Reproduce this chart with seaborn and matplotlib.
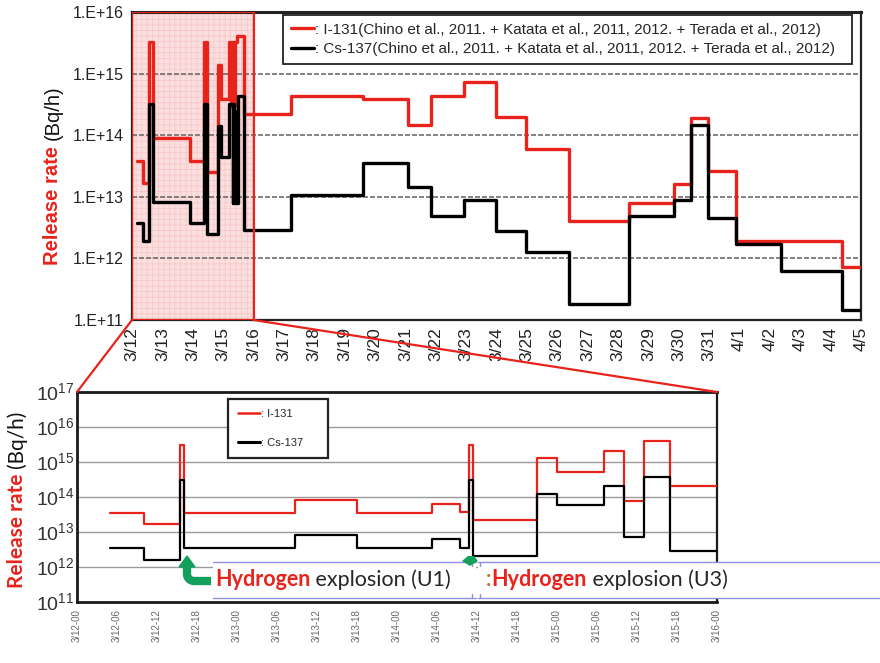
import numpy as np
import pandas as pd
import matplotlib
matplotlib.use("Agg")
import matplotlib.pyplot as plt
import seaborn as sns
from matplotlib.patches import Rectangle, ConnectionPatch, Polygon
from matplotlib.offsetbox import TextArea, HPacker, AnnotationBbox
from matplotlib.lines import Line2D

# ---------------- data: upper panel (days after 3/12 00:00) ----------------
top_i131_day = [0.15, 0.35, 0.57, 0.68, 1.91, 2.38, 2.47, 2.82, 2.93, 3.20, 3.27, 3.30,
                3.36, 3.38, 3.45, 3.70, 5.22, 7.62, 9.10, 9.84, 10.93, 11.99, 12.98,
                14.40, 16.36, 17.85, 18.39, 18.97, 19.88, 23.36, 24.00]
top_i131_rate = [3.8e13, 1.7e13, 3.2e15, 9.1e13, 3.8e13, 3.2e15, 2.5e13, 1.4e15, 3.8e14,
                 3.2e15, 3.0e14, 3.2e15, 3.0e14, 3.2e15, 4.1e15, 2.2e14, 4.3e14, 3.9e14,
                 1.45e14, 4.3e14, 7.4e14, 2.0e14, 5.9e13, 4.0e12, 7.8e12, 1.6e13, 1.9e14,
                 2.6e13, 1.9e12, 7.3e11, 7.3e11]
top_cs137_day = [0.15, 0.35, 0.57, 0.68, 1.91, 2.38, 2.47, 2.82, 2.93, 3.20, 3.31, 3.34,
                 3.37, 3.40, 3.43, 3.50, 3.70, 5.22, 7.62, 9.10, 9.84, 10.93, 11.99,
                 12.98, 14.40, 16.36, 17.85, 18.39, 18.97, 19.88, 21.36, 23.36, 24.00]
top_cs137_rate = [3.8e12, 1.9e12, 3.2e14, 8.3e12, 3.7e12, 3.2e14, 2.5e12, 1.4e14, 4.5e13,
                  3.2e14, 8.0e12, 3.2e14, 8.0e12, 2.5e14, 8.0e12, 4.4e14, 2.9e12, 1.05e13,
                  3.5e13, 1.45e13, 4.8e12, 9.0e12, 2.8e12, 1.26e12, 1.8e11, 4.8e12, 9.0e12,
                  1.45e14, 4.6e12, 1.7e12, 6.2e11, 1.45e11, 1.45e11]
top_tick_labels = ["3/12", "3/13", "3/14", "3/15", "3/16", "3/17", "3/18", "3/19", "3/20",
                   "3/21", "3/22", "3/23", "3/24", "3/25", "3/26", "3/27", "3/28", "3/29",
                   "3/30", "3/31", "4/1", "4/2", "4/3", "4/4", "4/5"]
top_ytick_labels = ["1.E+11", "1.E+12", "1.E+13", "1.E+14", "1.E+15", "1.E+16"]
top_legend = [": I-131(Chino et al., 2011. + Katata et al., 2011, 2012. + Terada et al., 2012)",
              ": Cs-137(Chino et al., 2011. + Katata et al., 2011, 2012. + Terada et al., 2012)"]

# ---------------- data: lower panel (hours after 3/12 00:00) ----------------
low_hour = [5.0, 10.1, 15.4, 16.0, 32.7, 42.0, 53.2, 57.4, 58.8, 59.4, 69.0, 72.0,
            79.0, 82.0, 85.0, 89.0, 96.0]
low_i131_rate = [3.6e13, 1.65e13, 3.1e15, 3.6e13, 8.2e13, 3.6e13, 6.5e13, 3.8e13, 3.1e15,
                 2.2e13, 1.3e15, 5.3e14, 2.0e15, 7.7e13, 4.0e15, 2.1e14, 2.1e14]
low_cs137_rate = [3.6e12, 1.6e12, 3.1e14, 3.6e12, 8.2e12, 3.6e12, 6.2e12, 3.4e12, 3.1e14,
                  2.1e12, 1.2e14, 5.9e13, 2.0e14, 7.4e12, 3.8e14, 2.9e12, 2.9e12]
low_tick_labels = ["3/12-00", "3/12-06", "3/12-12", "3/12-18", "3/13-00", "3/13-06",
                   "3/13-12", "3/13-18", "3/14-00", "3/14-06", "3/14-12", "3/14-18",
                   "3/15-00", "3/15-06", "3/15-12", "3/15-18", "3/16-00"]
low_exponents = [11, 12, 13, 14, 15, 16, 17]
low_legend = [": I-131", ": Cs-137"]

RED = "#e8231c"
GREEN = "#13a05c"
BLUE = "#8f8fe0"

sns.set_style("white")
plt.rcParams["font.family"] = ["Liberation Sans", "DejaVu Sans"]
plt.rcParams["mathtext.fontset"] = "custom"
plt.rcParams["mathtext.rm"] = "Liberation Sans"
plt.rcParams["hatch.linewidth"] = 0.5

fig = plt.figure(figsize=(8.8, 6.63), dpi=100)
ax1 = fig.add_axes([132 / 880, 1 - 320 / 663, 729 / 880, 308 / 663])
ax2 = fig.add_axes([77 / 880, 1 - 602 / 663, 640 / 880, 210 / 663])

# ---------------- upper panel ----------------
ax1.axvspan(0, 4, facecolor="#fbdede", edgecolor="#f7c6c6", hatch="+++", lw=0, zorder=0)
for e in range(12, 16):
    ax1.axhline(10.0 ** e, color="#6e6e6e", ls=(0, (3, 1.2)), lw=1.2, zorder=1)

df_top_i = pd.DataFrame({"day": top_i131_day, "rate": top_i131_rate})
df_top_c = pd.DataFrame({"day": top_cs137_day, "rate": top_cs137_rate})
sns.lineplot(data=df_top_i, x="day", y="rate", ax=ax1, color=RED, lw=2.4,
             drawstyle="steps-post", estimator=None, sort=False, zorder=3)
sns.lineplot(data=df_top_c, x="day", y="rate", ax=ax1, color="black", lw=2.4,
             drawstyle="steps-post", estimator=None, sort=False, zorder=4)
ax1.axvspan(0, 4, fill=False, edgecolor=RED, lw=1.6, zorder=6)

ax1.set_yscale("log")
ax1.set_ylim(1e11, 1e16)
ax1.set_xlim(0, 24)
ax1.set_yticks([10.0 ** e for e in range(11, 17)])
ax1.set_yticklabels(top_ytick_labels, fontsize=11.5, color="#222222")
ax1.yaxis.set_minor_locator(matplotlib.ticker.NullLocator())
ax1.set_xticks(range(len(top_tick_labels)))
ax1.set_xticklabels(top_tick_labels, rotation=90, fontsize=12.5, color="#222222")
ax1.tick_params(axis="x", direction="in", length=5, width=1, pad=5, color="#444444")
ax1.tick_params(axis="y", length=0, pad=6)
ax1.set_xlabel("")
ax1.set_ylabel("")
for s in ax1.spines.values():
    s.set_color("#222222")
    s.set_linewidth(1.6)
ax1.spines["top"].set_linewidth(2.2)

h1 = [Line2D([], [], color=RED, lw=2.4), Line2D([], [], color="black", lw=2.4)]
leg1 = ax1.legend(h1, top_legend, loc="upper left", mode="expand",
                  bbox_to_anchor=(151 / 729, 0.5, 569 / 729, 0.49), fontsize=11,
                  handlelength=1.5, handletextpad=0.1, labelspacing=0.35, borderpad=0.5,
                  fancybox=False, edgecolor="#222222", framealpha=1, borderaxespad=0)
leg1.get_frame().set_linewidth(1.3)

# ---------------- lower panel ----------------
for e in range(12, 17):
    ax2.axhline(10.0 ** e, color="#9a9a9a", lw=1.0, zorder=1)
df_low = pd.DataFrame({"hour": low_hour, "i131": low_i131_rate, "cs137": low_cs137_rate})
sns.lineplot(data=df_low, x="hour", y="i131", ax=ax2, color=RED, lw=1.6,
             drawstyle="steps-post", estimator=None, sort=False, zorder=3)
sns.lineplot(data=df_low, x="hour", y="cs137", ax=ax2, color="black", lw=1.6,
             drawstyle="steps-post", estimator=None, sort=False, zorder=4)
ax2.set_yscale("log")
ax2.set_ylim(1e11, 1e17)
ax2.set_xlim(0, 96)
ax2.set_yticks([10.0 ** e for e in low_exponents])
ax2.set_yticklabels([r"$10^{%d}$" % e for e in low_exponents], fontsize=14, color="#333333")
ax2.yaxis.set_minor_locator(matplotlib.ticker.LogLocator(base=10, subs=np.arange(2, 10)))
ax2.yaxis.set_minor_formatter(matplotlib.ticker.NullFormatter())
ax2.tick_params(axis="y", which="major", direction="in", length=4, pad=2)
ax2.tick_params(axis="y", which="minor", direction="in", length=2)
ax2.set_xticks(np.arange(0, 97, 6))
ax2.set_xticklabels(low_tick_labels, rotation=90, fontsize=7, color="#666666")
ax2.tick_params(axis="x", direction="in", length=3, pad=5, color="#777777")
ax2.set_xlabel("")
ax2.set_ylabel("")
for s in ax2.spines.values():
    s.set_color("#1a1a1a")
    s.set_linewidth(2.0)
ax2.spines["right"].set_linewidth(1.6)

h2 = [Line2D([], [], color=RED, lw=1.8), Line2D([], [], color="black", lw=2.2)]
leg2 = ax2.legend(h2, low_legend, loc="upper left", mode="expand",
                  bbox_to_anchor=(151 / 640, 0.3, 100 / 640, 0.667), fontsize=8,
                  handlelength=2.0, handletextpad=0.1, labelspacing=1.7, borderpad=0.9,
                  fancybox=False, edgecolor="#222222", framealpha=1, borderaxespad=0)
leg2.get_frame().set_linewidth(1.6)

# ---------------- zoom connector lines ----------------
for xa, xb in [(0, 0), (4, 96)]:
    con = ConnectionPatch(xyA=(xa, 1e11), coordsA=ax1.transData,
                          xyB=(xb, 1e17), coordsB=ax2.transData,
                          color=RED, lw=1.6, zorder=20)
    fig.add_artist(con)

# ---------------- y labels ----------------
def two_part_ylabel(x, y, fs, fam):
    fig.text(x, y - 0.004, "Release rate", color=RED, fontweight="bold", fontsize=fs,
             rotation=90, rotation_mode="anchor", ha="right", va="center", family=fam)
    fig.text(x, y + 0.004, "(Bq/h)", color="#111111", fontsize=fs,
             rotation=90, rotation_mode="anchor", ha="left", va="center", family=fam)

two_part_ylabel(53 / 880, 1 - 143 / 663, 14.5, ["Liberation Sans", "DejaVu Sans"])
two_part_ylabel(17 / 880, 1 - 471 / 663, 15, ["Lato", "DejaVu Sans"])

# ---------------- annotation overlay ----------------
ov = fig.add_axes([0, 0, 1, 1], zorder=10)
ov.set_xlim(0, 880)
ov.set_ylim(663, 0)
ov.axis("off")
ov.patch.set_alpha(0)

for x0, x1 in [(213, 476), (478, 885)]:
    ov.add_patch(Rectangle((x0, 562), x1 - x0, 36, facecolor="white", edgecolor="none", zorder=1))
    ov.plot([x0, x1], [562, 562], color=BLUE, lw=1.0, zorder=2)
    ov.plot([x0, x1], [598, 598], color=BLUE, lw=1.0, zorder=2)
ov.plot([472, 472], [562, 566], color=BLUE, lw=1.0)
ov.plot([472, 472], [594, 598], color=BLUE, lw=1.0)
ov.plot([480, 480], [562, 566], color=BLUE, lw=1.0)
ov.plot([480, 480], [594, 598], color=BLUE, lw=1.0)


def rich(parts, xy):
    areas = [TextArea(t, textprops=dict(color=c, fontsize=15.5, fontweight=w,
                                        family=["Lato", "DejaVu Sans"]))
             for t, c, w in parts]
    pack = HPacker(children=areas, align="baseline", pad=0, sep=0)
    ab = AnnotationBbox(pack, xy, xycoords="data", box_alignment=(0, 0.5),
                        frameon=False, pad=0, zorder=5)
    ov.add_artist(ab)


rich([("Hydrogen", RED, "bold"), (" explosion (U1)", "#262626", "normal")], (215, 580))
rich([(":", "#b07a2a", "bold"), ("Hydrogen", RED, "bold"), (" explosion (U3)", "#262626", "normal")],
     (486, 580))

# green bent arrow (U1) and small marker (U3)
theta = np.linspace(np.pi / 2, np.pi, 12)
arc_x = 194 + 7 * np.cos(theta)
arc_y = 574 + 7 * np.sin(theta)
path_x = np.concatenate([[211], arc_x[::-1][::-1] * 0 + arc_x, [187]])
path_y = np.concatenate([[581], arc_y, [566]])
ov.plot(path_x, path_y, color=GREEN, lw=6, solid_capstyle="butt", solid_joinstyle="round", zorder=6)
ov.add_patch(Polygon([(179, 567), (195, 567), (187, 556)], closed=True,
                     facecolor=GREEN, edgecolor=GREEN, lw=1, zorder=6))
ov.add_patch(Polygon([(462, 561), (468, 556), (474, 556), (478, 561), (470, 566)],
                     closed=True, facecolor=GREEN, edgecolor="none", zorder=6))

fig.savefig("out.png", dpi=100)
